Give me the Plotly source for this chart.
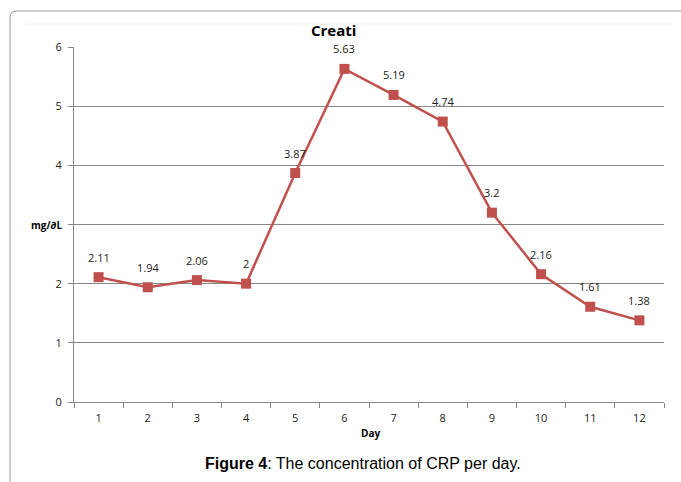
import plotly.graph_objects as go

days = ["1", "2", "3", "4", "5", "6", "7", "8", "9", "10", "11", "12"]
values = [2.11, 1.94, 2.06, 2.0, 3.87, 5.63, 5.19, 4.74, 3.2, 2.16, 1.61, 1.38]
labels = ["2.11", "1.94", "2.06", "2", "3.87", "5.63", "5.19", "4.74", "3.2", "2.16", "1.61", "1.38"]
y_ticks = [0, 1, 2, 3, 4, 5, 6]
y_ticktext = ["0", "1", "2", "", "4", "5", "6"]

FONT = "Open Sans"
RED = "#C0504D"

fig = go.Figure()
fig.add_trace(go.Scatter(
    x=days, y=values, mode="lines+markers",
    line=dict(color=RED, width=2.5),
    marker=dict(symbol="square", size=10, color=RED),
    hoverinfo="skip", showlegend=False,
))

for i, (v, t) in enumerate(zip(values, labels)):
    fig.add_annotation(x=i, y=v, xref="x", yref="y", text=t, showarrow=False,
                       yshift=20, xanchor="center", yanchor="middle",
                       font=dict(family=FONT, size=11, color="#222"))

L, R, T, B = 74, 17, 47, 80
W, H = 681, 482
pw, ph = W - L - R, H - T - B

def px(x):
    return (x - L) / pw

def py(y):
    return (H - B - y) / ph

# outer frame with rounded top-left corner
x0, y0 = px(10), py(11)
rx, ry = 7 / pw, 7 / ph
path = (f"M {x0},{py(500)} L {x0},{y0 - ry} Q {x0},{y0} {x0 + rx},{y0} "
        f"L {px(700)},{y0}")
fig.add_shape(type="path", path=path, xref="paper", yref="paper",
              line=dict(color="#9a9a9a", width=1))
# faint inner chart-area line
fig.add_shape(type="line", xref="paper", yref="paper",
              x0=px(26), x1=px(672), y0=py(24), y1=py(24),
              line=dict(color="#f0f0f0", width=1))

def label(x, y, text, size, family=FONT):
    fig.add_annotation(xref="paper", yref="paper", x=px(x), y=py(y),
                       text=text, showarrow=False,
                       xanchor="center", yanchor="middle",
                       font=dict(family=family, size=size, color="#000"))

label(333, 30, "<b>Creati</b>", 15)
label(46, 225, "<b>mg/∂L</b>", 10)
label(371, 433, "<b>Day</b>", 10)
label(363, 463, "<b>Figure 4</b>: The concentration of CRP per day.", 16,
      "Liberation Sans")

fig.update_layout(
    width=W, height=H,
    margin=dict(l=L, r=R, t=T, b=B),
    paper_bgcolor="white", plot_bgcolor="white",
    font=dict(family=FONT, size=11, color="#222"),
    xaxis=dict(type="category", tickson="boundaries", ticks="outside",
               ticklen=5, tickcolor="#868686", showline=True,
               linecolor="#868686", linewidth=1, showgrid=False,
               tickfont=dict(size=11, color="#222"), range=[-0.5, 11.5],
               ticklabelstandoff=6),
    yaxis=dict(range=[0, 6], tickvals=y_ticks, ticktext=y_ticktext,
               ticks="outside", ticklen=5,
               tickcolor="#868686", showline=True, linecolor="#868686",
               linewidth=1, showgrid=True, gridcolor="#868686", gridwidth=1,
               zeroline=False, tickfont=dict(size=11, color="#222"),
               ticklabelstandoff=4),
)

fig.write_html("out.html", config={"displayModeBar": False})
with open("out.html", "r", encoding="utf-8") as f:
    html = f.read()
html = html.replace("<head>", "<head><style>html,body{margin:0;padding:0;overflow:hidden;}</style>", 1)
with open("out.html", "w", encoding="utf-8") as f:
    f.write(html)
